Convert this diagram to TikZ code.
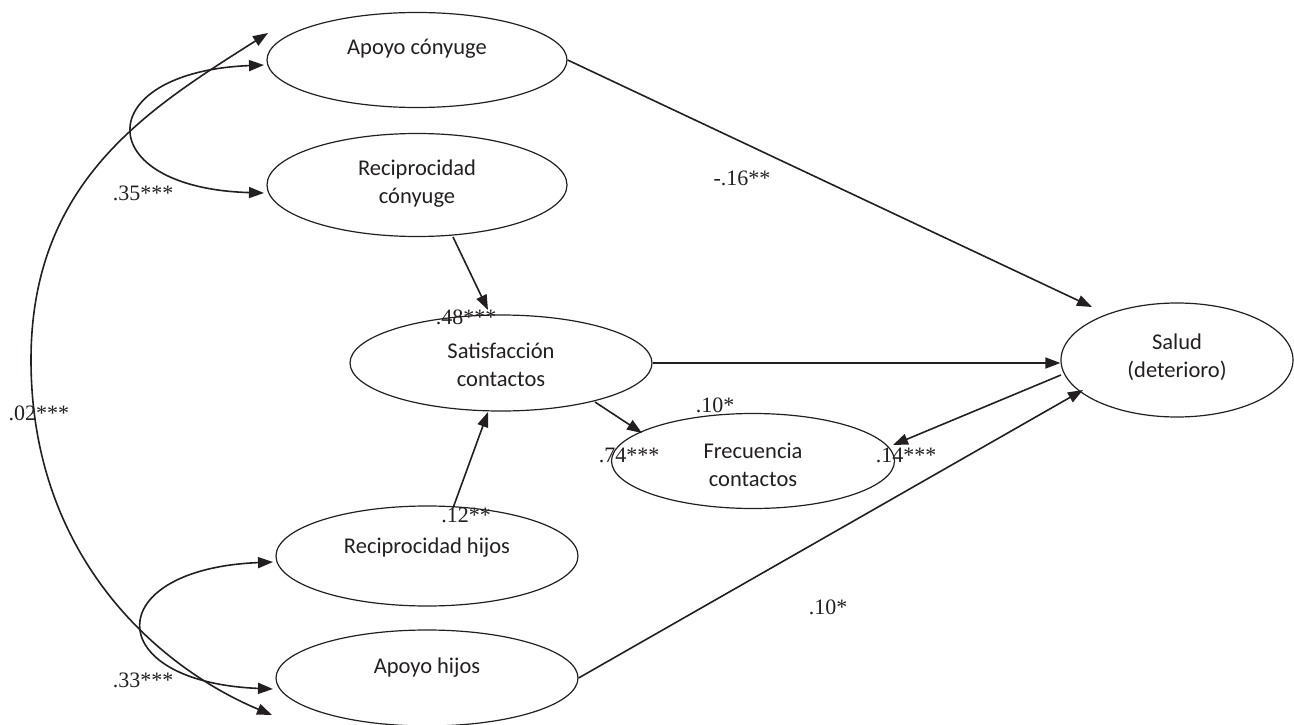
\documentclass[tikz,border=0pt]{standalone}
\usepackage{fontspec}
\setmainfont{Liberation Serif}
\newfontfamily\calib{Carlito}
\usetikzlibrary{shapes.geometric,arrows.meta,calc}
\definecolor{ink}{RGB}{35,31,32}
\begin{document}
\begin{tikzpicture}[x=1pt,y=-1pt,
  ell/.style={draw=ink, line width=1.2pt, ellipse, inner sep=0pt},
  etext/.style={font=\calib\fontsize{22.5}{28}\selectfont, align=center, text=ink, inner sep=0pt},
  coef/.style={font=\fontsize{22}{26}\selectfont, text=ink, anchor=base, inner sep=0pt},
  conn/.style={draw=ink, line width=1.6pt, -{Triangle[length=15pt,width=11pt]}},
  dconn/.style={draw=ink, line width=1.6pt, {Triangle[length=15pt,width=11pt]}-{Triangle[length=15pt,width=11pt]}}]
\useasboundingbox (0,0) rectangle (1294,725);

% latent variables
\node[ell, minimum width=300pt, minimum height=95pt]  (ac)  at (417,60)  {};
\node[etext] (acT) at (417,49) {Apoyo cónyuge};
\node[ell, minimum width=300pt, minimum height=103pt] (rc)  at (417,185) {};
\node[etext] (rcT) at (417,184) {Reciprocidad\\cónyuge};
\node[ell, minimum width=302pt, minimum height=96pt]  (sc)  at (501,363) {};
\node[etext] (scT) at (501,365) {Satisfacción\\contactos};
\node[ell, minimum width=232pt, minimum height=114pt] (sal) at (1177,360) {};
\node[etext] (salT) at (1177,357) {Salud\\(deterioro)};
\node[ell, minimum width=283pt, minimum height=95pt]  (fc)  at (753,461) {};
\node[etext] (fcT) at (753,465) {Frecuencia\\contactos};
\node[ell, minimum width=302pt, minimum height=100pt] (rh)  at (427,556) {};
\node[etext] (rhT) at (427,548) {Reciprocidad hijos};
\node[ell, minimum width=302pt, minimum height=96pt]  (ah)  at (427,678) {};
\node[etext] (ahT) at (427,668) {Apoyo hijos};

% directed paths
\draw[conn] (ac.east) -- ($(sal.center)+(-85,-53)$);
\draw[conn] ($(rc.center)+(36,52)$) -- ($(sc.center)+(-13,-53)$);
\draw[conn] (sc.east) -- (sc.east -| sal.west);
\draw[conn] ($(sc.center)+(94,39)$) -- ($(fc.center)+(-111,-28)$);
\draw[conn] ($(sal.center)+(-116,15)$) -- ($(fc.center)+(140,-16)$);
\draw[conn] ($(rh.center)+(26,-48)$) -- ($(sc.center)+(-13,49)$);
\draw[conn] (ah.east) -- ($(sal.center)+(-94,30)$);

% covariances
\coordinate (far) at (31,360);
\draw[dconn] ($(ac.center)+(-149,-27)$) .. controls (150,108) and (31,180) .. (far)
             .. controls (31,560) and (162,669) .. ($(ah.center)+(-155,37)$);
\draw[dconn] ($(ac.center)+(-153,5)$) .. controls (90,72) and (90,188) .. ($(rc.center)+(-153,8)$);
\draw[dconn] ($(rh.center)+(-154,6)$) .. controls (100,569) and (100,682) .. ($(ah.center)+(-154,11)$);

% coefficients
\node[coef] (k35) at (143,200) {.35***};
\node[coef] (k02) at (39,420)  {.02***};
\node[coef] (k33) at (143,687) {.33***};
\node[coef] (k16) at (742,185) {-.16**};
\node[coef] (k48) at (466,324) {.48***};
\node[coef] (k10a) at (715,412) {.10*};
\node[coef] (k74) at (629,462) {.74***};
\node[coef] (k14) at (906,462) {.14***};
\node[coef] (k12) at (466,522) {.12**};
\node[coef] (k10b) at (828,614) {.10*};
\end{tikzpicture}
\end{document}
